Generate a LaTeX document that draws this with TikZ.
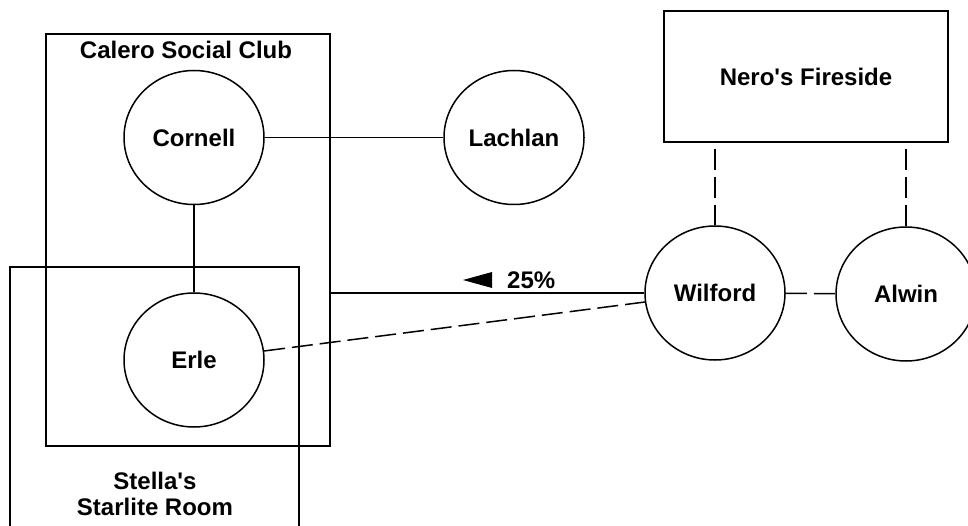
\documentclass[tikz,border=0pt]{standalone}
\usepackage{fontspec}
\setmainfont{Liberation Sans}
\usetikzlibrary{shapes.geometric}
\begin{document}
\begin{tikzpicture}[x=1pt,y=-1pt,
  font=\fontsize{24}{27}\selectfont\bfseries,
  circ/.style={draw, ellipse, line width=1.5pt, minimum width=140pt, minimum height=134pt, inner sep=0pt},
  grp/.style={draw, rectangle, line width=1.7pt, inner sep=0pt},
  lbl/.style={inner sep=0pt, align=center},
  conn/.style={line width=1.5pt},
  dconn/.style={line width=1.5pt, dash pattern=on 21pt off 7pt}]
\useasboundingbox (0,0) rectangle (968,526);
% group boxes
\node[grp, minimum width=284pt, minimum height=412pt] (calero) at (188,240) {};
\node[grp, minimum width=289pt, minimum height=300pt] (stella) at (154.5,417) {};
\node[grp, minimum width=284pt, minimum height=131pt] (nero) at (806,76.5) {Nero\textquotesingle s Fireside};
\node[lbl] (calerolbl) at (186,50) {Calero Social Club};
\node[lbl, font=\fontsize{24}{26}\selectfont\bfseries] (stellalbl) at (155,494) {Stella\textquotesingle s\\Starlite Room};
% people
\node[circ] (cornell) at (194,137.5) {Cornell};
\node[circ] (lachlan) at (514,137.5) {Lachlan};
\node[circ] (erle) at (194,360) {Erle};
\node[circ] (wilford) at (715,293) {Wilford};
\node[circ] (alwin) at (906,294) {Alwin};
% connectors
\draw[conn] (cornell) -- (lachlan);
\draw[conn] (cornell) -- (erle);
\draw[conn] (calero.east |- wilford) -- (wilford);
\draw[dconn] (erle) -- (wilford);
\draw[dconn] (wilford) -- (alwin);
\draw[dconn, shorten <=6pt] (nero.south -| wilford) -- (wilford);
\draw[dconn, shorten <=6pt] (nero.south -| alwin) -- (alwin);
% label with arrow
\node[lbl, anchor=base west] (pct) at (507,288) {25\%};
\fill ([shift={(-44,-8)}]pct.base west) -- ([shift={(-15,-16)}]pct.base west) -- ([shift={(-15,0)}]pct.base west) -- cycle;
\end{tikzpicture}
\end{document}
